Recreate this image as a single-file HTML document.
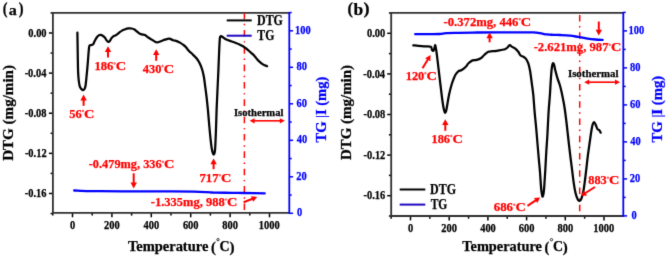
<!DOCTYPE html>
<html><head><meta charset="utf-8"><title>DTG/TG</title>
<style>html,body{margin:0;padding:0;background:#fff;width:668px;height:258px;overflow:hidden}svg{display:block}</style>
</head><body>
<svg width="668" height="258" viewBox="0 0 668 258" font-family="&quot;Liberation Serif&quot;, serif" font-weight="bold">
<defs><filter id="bl" x="0" y="0" width="668" height="258" filterUnits="userSpaceOnUse" color-interpolation-filters="sRGB"><feConvolveMatrix order="3" kernelMatrix="0.01134 0.08382 0.01134 0.08382 0.61935 0.08382 0.01134 0.08382 0.01134" edgeMode="duplicate" preserveAlpha="true"/></filter></defs><g filter="url(#bl)">
<rect width="668" height="258" fill="#ffffff"/>
<line x1="52.80" y1="212.9" x2="52.80" y2="215.6" stroke="#000000" stroke-width="1.5"/>
<line x1="72.50" y1="212.9" x2="72.50" y2="217.3" stroke="#000000" stroke-width="1.5"/>
<line x1="92.20" y1="212.9" x2="92.20" y2="215.6" stroke="#000000" stroke-width="1.5"/>
<line x1="111.90" y1="212.9" x2="111.90" y2="217.3" stroke="#000000" stroke-width="1.5"/>
<line x1="131.60" y1="212.9" x2="131.60" y2="215.6" stroke="#000000" stroke-width="1.5"/>
<line x1="151.30" y1="212.9" x2="151.30" y2="217.3" stroke="#000000" stroke-width="1.5"/>
<line x1="171.00" y1="212.9" x2="171.00" y2="215.6" stroke="#000000" stroke-width="1.5"/>
<line x1="190.70" y1="212.9" x2="190.70" y2="217.3" stroke="#000000" stroke-width="1.5"/>
<line x1="210.40" y1="212.9" x2="210.40" y2="215.6" stroke="#000000" stroke-width="1.5"/>
<line x1="230.10" y1="212.9" x2="230.10" y2="217.3" stroke="#000000" stroke-width="1.5"/>
<line x1="249.80" y1="212.9" x2="249.80" y2="215.6" stroke="#000000" stroke-width="1.5"/>
<line x1="269.50" y1="212.9" x2="269.50" y2="217.3" stroke="#000000" stroke-width="1.5"/>
<line x1="50.6" y1="12.94" x2="52.9" y2="12.94" stroke="#000000" stroke-width="1.5"/>
<line x1="48.9" y1="33.00" x2="52.9" y2="33.00" stroke="#000000" stroke-width="1.5"/>
<line x1="50.6" y1="53.06" x2="52.9" y2="53.06" stroke="#000000" stroke-width="1.5"/>
<line x1="48.9" y1="73.12" x2="52.9" y2="73.12" stroke="#000000" stroke-width="1.5"/>
<line x1="50.6" y1="93.18" x2="52.9" y2="93.18" stroke="#000000" stroke-width="1.5"/>
<line x1="48.9" y1="113.24" x2="52.9" y2="113.24" stroke="#000000" stroke-width="1.5"/>
<line x1="50.6" y1="133.30" x2="52.9" y2="133.30" stroke="#000000" stroke-width="1.5"/>
<line x1="48.9" y1="153.36" x2="52.9" y2="153.36" stroke="#000000" stroke-width="1.5"/>
<line x1="50.6" y1="173.42" x2="52.9" y2="173.42" stroke="#000000" stroke-width="1.5"/>
<line x1="48.9" y1="193.48" x2="52.9" y2="193.48" stroke="#000000" stroke-width="1.5"/>
<line x1="50.6" y1="213.54" x2="52.9" y2="213.54" stroke="#000000" stroke-width="1.5"/>
<line x1="289.3" y1="213.30" x2="293.1" y2="213.30" stroke="#0000ff" stroke-width="1.5"/>
<line x1="289.3" y1="195.05" x2="291.7" y2="195.05" stroke="#0000ff" stroke-width="1.5"/>
<line x1="289.3" y1="176.80" x2="293.1" y2="176.80" stroke="#0000ff" stroke-width="1.5"/>
<line x1="289.3" y1="158.55" x2="291.7" y2="158.55" stroke="#0000ff" stroke-width="1.5"/>
<line x1="289.3" y1="140.30" x2="293.1" y2="140.30" stroke="#0000ff" stroke-width="1.5"/>
<line x1="289.3" y1="122.05" x2="291.7" y2="122.05" stroke="#0000ff" stroke-width="1.5"/>
<line x1="289.3" y1="103.80" x2="293.1" y2="103.80" stroke="#0000ff" stroke-width="1.5"/>
<line x1="289.3" y1="85.55" x2="291.7" y2="85.55" stroke="#0000ff" stroke-width="1.5"/>
<line x1="289.3" y1="67.30" x2="293.1" y2="67.30" stroke="#0000ff" stroke-width="1.5"/>
<line x1="289.3" y1="49.05" x2="291.7" y2="49.05" stroke="#0000ff" stroke-width="1.5"/>
<line x1="289.3" y1="30.80" x2="293.1" y2="30.80" stroke="#0000ff" stroke-width="1.5"/>
<line x1="289.3" y1="12.55" x2="291.7" y2="12.55" stroke="#0000ff" stroke-width="1.5"/>
<path d="M289.3,12.9 H52.9 V212.9 H289.3" fill="none" stroke="#303030" stroke-width="1.8"/>
<line x1="289.3" y1="12.0" x2="289.3" y2="213.8" stroke="#0000ff" stroke-width="1.8"/>
<line x1="244.4" y1="12.9" x2="244.4" y2="212.9" stroke="#ff0000" stroke-width="1.5" stroke-dasharray="6.6 4.675 1.4 4.675" stroke-dashoffset="0.375"/>
<path d="M77.40,32.70 C77.43,34.75 77.53,40.78 77.60,45.00 C77.67,49.22 77.72,53.55 77.80,58.00 C77.88,62.45 77.95,68.03 78.10,71.70 C78.25,75.37 78.45,77.65 78.70,80.00 C78.95,82.35 79.25,84.42 79.60,85.80 C79.95,87.18 80.35,87.65 80.80,88.30 C81.25,88.95 81.87,89.42 82.30,89.70 C82.73,89.98 83.02,90.13 83.40,90.00 C83.78,89.87 84.23,89.70 84.60,88.90 C84.97,88.10 85.28,87.18 85.60,85.20 C85.92,83.22 86.15,80.53 86.50,77.00 C86.85,73.47 87.37,67.92 87.70,64.00 C88.03,60.08 88.25,56.42 88.50,53.50 C88.75,50.58 88.93,47.90 89.20,46.50 C89.47,45.10 89.68,45.35 90.10,45.10 C90.52,44.85 91.18,45.17 91.70,45.00 C92.22,44.83 92.70,44.75 93.20,44.10 C93.70,43.45 94.12,42.20 94.70,41.10 C95.28,40.00 96.03,38.45 96.70,37.50 C97.37,36.55 98.03,35.83 98.70,35.40 C99.37,34.97 100.03,34.83 100.70,34.90 C101.37,34.97 102.02,35.35 102.70,35.80 C103.38,36.25 104.12,36.80 104.80,37.60 C105.48,38.40 106.22,39.88 106.80,40.60 C107.38,41.32 107.80,41.82 108.30,41.90 C108.80,41.98 109.30,41.68 109.80,41.10 C110.30,40.52 110.72,39.20 111.30,38.40 C111.88,37.60 112.52,36.85 113.30,36.30 C114.08,35.75 115.02,35.72 116.00,35.10 C116.98,34.48 118.20,33.35 119.20,32.60 C120.20,31.85 121.12,31.12 122.00,30.60 C122.88,30.08 123.45,29.87 124.50,29.50 C125.55,29.13 127.10,28.57 128.30,28.40 C129.50,28.23 130.67,28.30 131.70,28.50 C132.73,28.70 133.62,29.10 134.50,29.60 C135.38,30.10 136.08,30.80 137.00,31.50 C137.92,32.20 139.08,33.28 140.00,33.80 C140.92,34.32 141.67,34.38 142.50,34.60 C143.33,34.82 144.03,34.62 145.00,35.10 C145.97,35.58 147.05,36.67 148.30,37.50 C149.55,38.33 151.10,39.28 152.50,40.10 C153.90,40.92 155.32,42.22 156.70,42.40 C158.08,42.58 159.42,41.65 160.80,41.20 C162.18,40.75 163.60,40.12 165.00,39.70 C166.40,39.28 167.82,38.60 169.20,38.70 C170.58,38.80 172.05,39.90 173.30,40.30 C174.55,40.70 175.58,40.72 176.70,41.10 C177.82,41.48 178.75,41.87 180.00,42.60 C181.25,43.33 183.17,44.68 184.20,45.50 C185.23,46.32 185.52,46.70 186.20,47.50 C186.88,48.30 187.62,49.50 188.30,50.30 C188.98,51.10 189.60,51.65 190.30,52.30 C191.00,52.95 191.43,53.17 192.50,54.20 C193.57,55.23 195.48,56.95 196.70,58.50 C197.92,60.05 198.87,61.58 199.80,63.50 C200.73,65.42 201.62,67.75 202.30,70.00 C202.98,72.25 203.45,74.50 203.90,77.00 C204.35,79.50 204.57,81.78 205.00,85.00 C205.43,88.22 206.02,92.18 206.50,96.30 C206.98,100.42 207.43,104.75 207.90,109.70 C208.37,114.65 208.85,121.07 209.30,126.00 C209.75,130.93 210.17,135.42 210.60,139.30 C211.03,143.18 211.42,146.78 211.90,149.30 C212.38,151.82 213.00,154.12 213.50,154.40 C214.00,154.68 214.55,153.52 214.90,151.00 C215.25,148.48 215.40,143.47 215.60,139.30 C215.80,135.13 215.93,130.93 216.10,126.00 C216.27,121.07 216.42,114.65 216.60,109.70 C216.78,104.75 217.00,100.75 217.20,96.30 C217.40,91.85 217.60,87.38 217.80,83.00 C218.00,78.62 218.20,74.67 218.40,70.00 C218.60,65.33 218.80,59.67 219.00,55.00 C219.20,50.33 219.42,45.00 219.60,42.00 C219.78,39.00 219.77,37.93 220.10,37.00 C220.43,36.07 220.65,36.03 221.60,36.40 C222.55,36.77 224.53,38.50 225.80,39.20 C227.07,39.90 227.95,40.13 229.20,40.60 C230.45,41.07 232.08,41.57 233.30,42.00 C234.52,42.43 235.55,42.83 236.50,43.20 C237.45,43.57 238.00,43.73 239.00,44.20 C240.00,44.67 241.50,45.42 242.50,46.00 C243.50,46.58 244.17,47.10 245.00,47.70 C245.83,48.30 246.38,48.67 247.50,49.60 C248.62,50.53 250.53,52.23 251.70,53.30 C252.87,54.37 253.35,54.73 254.50,56.00 C255.65,57.27 257.13,59.47 258.60,60.90 C260.07,62.33 261.88,63.72 263.30,64.60 C264.72,65.48 266.47,65.93 267.10,66.20" fill="none" stroke="#000000" stroke-width="2.25" stroke-linejoin="round" stroke-linecap="round"/>
<path d="M74.20,190.50 C75.17,190.55 78.03,190.70 80.00,190.80 C81.97,190.90 82.67,191.03 86.00,191.10 C89.33,191.17 91.00,191.15 100.00,191.20 C109.00,191.25 128.00,191.37 140.00,191.40 C152.00,191.43 163.00,191.37 172.00,191.40 C181.00,191.43 188.20,191.48 194.00,191.60 C199.80,191.72 203.80,191.95 206.80,192.10 C209.80,192.25 210.47,192.40 212.00,192.50 C213.53,192.60 212.67,192.65 216.00,192.70 C219.33,192.75 227.33,192.75 232.00,192.80 C236.67,192.85 238.55,192.90 244.00,193.00 C249.45,193.10 261.25,193.33 264.70,193.40" fill="none" stroke="#0000ff" stroke-width="2.3" stroke-linecap="round"/>
<line x1="226.7" y1="20.4" x2="251.7" y2="20.4" stroke="#000000" stroke-width="2"/>
<line x1="226.7" y1="35.7" x2="251.7" y2="35.7" stroke="#1e05c0" stroke-width="2"/>
<text x="257.00" y="24.90" font-size="13.80" fill="#000000" stroke="#000000" stroke-width="0.25" textLength="25.93" lengthAdjust="spacingAndGlyphs">DTG</text>
<text x="257.32" y="39.90" font-size="13.80" fill="#000000" stroke="#000000" stroke-width="0.25" textLength="16.99" lengthAdjust="spacingAndGlyphs">TG</text>
<line x1="83.6" y1="99.89999999999999" x2="83.6" y2="105.8" stroke="#ff0000" stroke-width="2.0"/>
<polygon points="83.6,94.6 80.39999999999999,100.39999999999999 86.8,100.39999999999999" fill="#ff0000"/>
<text x="69.20" y="117.50" font-size="13.00" fill="#ff0000" stroke="#ff0000" stroke-width="0.25" textLength="12.46" lengthAdjust="spacingAndGlyphs">56</text>
<circle cx="82.90" cy="111.00" r="0.8" fill="none" stroke="#ff0000" stroke-width="0.75"/>
<text x="84.01" y="117.50" font-size="13.00" fill="#ff0000" stroke="#ff0000" stroke-width="0.25" textLength="10.39" lengthAdjust="spacingAndGlyphs">C</text>
<line x1="108.0" y1="51.599999999999994" x2="108.0" y2="57.6" stroke="#ff0000" stroke-width="2.0"/>
<polygon points="108.0,46.3 104.8,52.099999999999994 111.2,52.099999999999994" fill="#ff0000"/>
<text x="94.39" y="70.00" font-size="13.00" fill="#ff0000" stroke="#ff0000" stroke-width="0.25" textLength="18.98" lengthAdjust="spacingAndGlyphs">186</text>
<circle cx="114.60" cy="63.50" r="0.8" fill="none" stroke="#ff0000" stroke-width="0.75"/>
<text x="115.71" y="70.00" font-size="13.00" fill="#ff0000" stroke="#ff0000" stroke-width="0.25" textLength="10.39" lengthAdjust="spacingAndGlyphs">C</text>
<line x1="156.2" y1="54.5" x2="156.2" y2="60.8" stroke="#ff0000" stroke-width="2.0"/>
<polygon points="156.2,49.2 153.0,55.0 159.39999999999998,55.0" fill="#ff0000"/>
<text x="142.84" y="72.50" font-size="13.00" fill="#ff0000" stroke="#ff0000" stroke-width="0.25" textLength="18.63" lengthAdjust="spacingAndGlyphs">430</text>
<circle cx="162.60" cy="66.00" r="0.8" fill="none" stroke="#ff0000" stroke-width="0.75"/>
<text x="163.71" y="72.50" font-size="13.00" fill="#ff0000" stroke="#ff0000" stroke-width="0.25" textLength="10.39" lengthAdjust="spacingAndGlyphs">C</text>
<line x1="213.6" y1="163.70000000000002" x2="213.6" y2="169.2" stroke="#ff0000" stroke-width="2.0"/>
<polygon points="213.6,158.4 210.4,164.20000000000002 216.79999999999998,164.20000000000002" fill="#ff0000"/>
<text x="199.47" y="181.80" font-size="13.00" fill="#ff0000" stroke="#ff0000" stroke-width="0.25" textLength="19.13" lengthAdjust="spacingAndGlyphs">717</text>
<circle cx="219.90" cy="175.30" r="0.8" fill="none" stroke="#ff0000" stroke-width="0.75"/>
<text x="221.01" y="181.80" font-size="13.00" fill="#ff0000" stroke="#ff0000" stroke-width="0.25" textLength="10.39" lengthAdjust="spacingAndGlyphs">C</text>
<text x="88.76" y="168.30" font-size="13.00" fill="#ff0000" stroke="#ff0000" stroke-width="0.25" textLength="72.90" lengthAdjust="spacingAndGlyphs">-0.479mg, 336</text>
<circle cx="162.90" cy="161.80" r="0.8" fill="none" stroke="#ff0000" stroke-width="0.75"/>
<text x="164.01" y="168.30" font-size="13.00" fill="#ff0000" stroke="#ff0000" stroke-width="0.25" textLength="10.39" lengthAdjust="spacingAndGlyphs">C</text>
<line x1="133.7" y1="173.3" x2="133.7" y2="183.1" stroke="#ff0000" stroke-width="2.0"/>
<polygon points="133.7,188.4 130.5,182.6 136.89999999999998,182.6" fill="#ff0000"/>
<text x="150.85" y="206.00" font-size="13.00" fill="#ff0000" stroke="#ff0000" stroke-width="0.25" textLength="73.86" lengthAdjust="spacingAndGlyphs">-1.335mg, 988</text>
<circle cx="225.90" cy="199.50" r="0.8" fill="none" stroke="#ff0000" stroke-width="0.75"/>
<text x="227.01" y="206.00" font-size="13.00" fill="#ff0000" stroke="#ff0000" stroke-width="0.25" textLength="10.39" lengthAdjust="spacingAndGlyphs">C</text>
<line x1="243.6" y1="202.2" x2="252.53" y2="198.79" stroke="#ff0000" stroke-width="2.0"/>
<polygon points="257.2,197.0 253.13,201.77 250.99,196.16" fill="#ff0000"/>
<text x="233.95" y="115.70" font-size="10.70" fill="#000000" stroke="#000000" stroke-width="0.25" textLength="49.53" lengthAdjust="spacingAndGlyphs">Isothermal</text>
<line x1="254.1" y1="120.8" x2="280.3" y2="120.8" stroke="#ff0000" stroke-width="1.6"/>
<polygon points="249.6,120.8 254.6,118.2 254.6,123.39999999999999" fill="#ff0000"/>
<polygon points="284.8,120.8 279.8,118.2 279.8,123.39999999999999" fill="#ff0000"/>
<text x="28.32" y="36.70" font-size="11.80" fill="#000000" stroke="#000000" stroke-width="0.25" textLength="18.28" lengthAdjust="spacingAndGlyphs">0.00</text>
<text x="24.64" y="76.82" font-size="11.80" fill="#000000" stroke="#000000" stroke-width="0.25" textLength="21.75" lengthAdjust="spacingAndGlyphs">-0.04</text>
<text x="24.79" y="116.94" font-size="11.80" fill="#000000" stroke="#000000" stroke-width="0.25" textLength="21.75" lengthAdjust="spacingAndGlyphs">-0.08</text>
<text x="24.89" y="157.06" font-size="11.80" fill="#000000" stroke="#000000" stroke-width="0.25" textLength="21.75" lengthAdjust="spacingAndGlyphs">-0.12</text>
<text x="24.75" y="197.18" font-size="11.80" fill="#000000" stroke="#000000" stroke-width="0.25" textLength="21.75" lengthAdjust="spacingAndGlyphs">-0.16</text>
<text x="69.89" y="228.50" font-size="11.80" fill="#000000" stroke="#000000" stroke-width="0.25" textLength="5.22" lengthAdjust="spacingAndGlyphs">0</text>
<text x="104.05" y="228.50" font-size="11.80" fill="#000000" stroke="#000000" stroke-width="0.25" textLength="15.66" lengthAdjust="spacingAndGlyphs">200</text>
<text x="143.60" y="228.50" font-size="11.80" fill="#000000" stroke="#000000" stroke-width="0.25" textLength="15.66" lengthAdjust="spacingAndGlyphs">400</text>
<text x="182.89" y="228.50" font-size="11.80" fill="#000000" stroke="#000000" stroke-width="0.25" textLength="15.66" lengthAdjust="spacingAndGlyphs">600</text>
<text x="222.29" y="228.50" font-size="11.80" fill="#000000" stroke="#000000" stroke-width="0.25" textLength="15.66" lengthAdjust="spacingAndGlyphs">800</text>
<text x="258.84" y="228.50" font-size="11.80" fill="#000000" stroke="#000000" stroke-width="0.25" textLength="20.89" lengthAdjust="spacingAndGlyphs">1000</text>
<text x="297.10" y="216.20" font-size="11.80" fill="#0000ff" stroke="#0000ff" stroke-width="0.25" textLength="5.22" lengthAdjust="spacingAndGlyphs">0</text>
<text x="296.36" y="179.70" font-size="11.80" fill="#0000ff" stroke="#0000ff" stroke-width="0.25" textLength="10.44" lengthAdjust="spacingAndGlyphs">20</text>
<text x="296.66" y="143.20" font-size="11.80" fill="#0000ff" stroke="#0000ff" stroke-width="0.25" textLength="10.44" lengthAdjust="spacingAndGlyphs">40</text>
<text x="296.44" y="106.70" font-size="11.80" fill="#0000ff" stroke="#0000ff" stroke-width="0.25" textLength="10.44" lengthAdjust="spacingAndGlyphs">60</text>
<text x="296.46" y="70.20" font-size="11.80" fill="#0000ff" stroke="#0000ff" stroke-width="0.25" textLength="10.44" lengthAdjust="spacingAndGlyphs">80</text>
<text x="294.96" y="33.70" font-size="11.80" fill="#0000ff" stroke="#0000ff" stroke-width="0.25" textLength="15.66" lengthAdjust="spacingAndGlyphs">100</text>
<text x="127.88" y="251.40" font-size="14.70" fill="#000000" stroke="#000000" stroke-width="0.25" textLength="80.49" lengthAdjust="spacingAndGlyphs">Temperature</text>
<text x="211.07" y="252.00" font-size="14.70" fill="#000000" stroke="#000000" stroke-width="0.25" textLength="4.90" lengthAdjust="spacingAndGlyphs">(</text>
<circle cx="218.00" cy="239.70" r="1.2" fill="none" stroke="#000" stroke-width="0.8"/>
<text x="219.43" y="251.40" font-size="14.70" fill="#000000" stroke="#000000" stroke-width="0.25" textLength="10.14" lengthAdjust="spacingAndGlyphs">C</text>
<text x="229.52" y="252.00" font-size="14.70" fill="#000000" stroke="#000000" stroke-width="0.25" textLength="5.03" lengthAdjust="spacingAndGlyphs">)</text>
<text transform="translate(12.6,160.8) rotate(-90)" font-size="13.8" fill="#000" stroke="#000" stroke-width="0.25" textLength="95.8" lengthAdjust="spacingAndGlyphs">DTG (mg/min)</text>
<text transform="translate(326.3,142.5) rotate(-90)" font-size="13.8" fill="#0000ff" stroke="#0000ff" stroke-width="0.25" textLength="65.8" lengthAdjust="spacingAndGlyphs">TG <tspan font-weight="normal">|</tspan>I (mg)</text>
<text x="2.68" y="14.30" font-size="17.00" fill="#000000" stroke="#000000" stroke-width="0.25" textLength="4.78" lengthAdjust="spacingAndGlyphs">(</text>
<text x="8.78" y="14.60" font-size="15.40" fill="#000000" stroke="#000000" stroke-width="0.25" textLength="8.06" lengthAdjust="spacingAndGlyphs">a</text>
<text x="18.64" y="14.30" font-size="17.00" fill="#000000" stroke="#000000" stroke-width="0.25" textLength="4.78" lengthAdjust="spacingAndGlyphs">)</text>
<line x1="391.15" y1="216.0" x2="391.15" y2="218.7" stroke="#000000" stroke-width="1.5"/>
<line x1="410.50" y1="216.0" x2="410.50" y2="220.4" stroke="#000000" stroke-width="1.5"/>
<line x1="429.85" y1="216.0" x2="429.85" y2="218.7" stroke="#000000" stroke-width="1.5"/>
<line x1="449.20" y1="216.0" x2="449.20" y2="220.4" stroke="#000000" stroke-width="1.5"/>
<line x1="468.55" y1="216.0" x2="468.55" y2="218.7" stroke="#000000" stroke-width="1.5"/>
<line x1="487.90" y1="216.0" x2="487.90" y2="220.4" stroke="#000000" stroke-width="1.5"/>
<line x1="507.25" y1="216.0" x2="507.25" y2="218.7" stroke="#000000" stroke-width="1.5"/>
<line x1="526.60" y1="216.0" x2="526.60" y2="220.4" stroke="#000000" stroke-width="1.5"/>
<line x1="545.95" y1="216.0" x2="545.95" y2="218.7" stroke="#000000" stroke-width="1.5"/>
<line x1="565.30" y1="216.0" x2="565.30" y2="220.4" stroke="#000000" stroke-width="1.5"/>
<line x1="584.65" y1="216.0" x2="584.65" y2="218.7" stroke="#000000" stroke-width="1.5"/>
<line x1="604.00" y1="216.0" x2="604.00" y2="220.4" stroke="#000000" stroke-width="1.5"/>
<line x1="388.9" y1="13.00" x2="391.2" y2="13.00" stroke="#000000" stroke-width="1.5"/>
<line x1="387.2" y1="33.30" x2="391.2" y2="33.30" stroke="#000000" stroke-width="1.5"/>
<line x1="388.9" y1="53.60" x2="391.2" y2="53.60" stroke="#000000" stroke-width="1.5"/>
<line x1="387.2" y1="73.90" x2="391.2" y2="73.90" stroke="#000000" stroke-width="1.5"/>
<line x1="388.9" y1="94.20" x2="391.2" y2="94.20" stroke="#000000" stroke-width="1.5"/>
<line x1="387.2" y1="114.50" x2="391.2" y2="114.50" stroke="#000000" stroke-width="1.5"/>
<line x1="388.9" y1="134.80" x2="391.2" y2="134.80" stroke="#000000" stroke-width="1.5"/>
<line x1="387.2" y1="155.10" x2="391.2" y2="155.10" stroke="#000000" stroke-width="1.5"/>
<line x1="388.9" y1="175.40" x2="391.2" y2="175.40" stroke="#000000" stroke-width="1.5"/>
<line x1="387.2" y1="195.70" x2="391.2" y2="195.70" stroke="#000000" stroke-width="1.5"/>
<line x1="388.9" y1="216.00" x2="391.2" y2="216.00" stroke="#000000" stroke-width="1.5"/>
<line x1="623.3" y1="215.90" x2="627.0999999999999" y2="215.90" stroke="#0000ff" stroke-width="1.5"/>
<line x1="623.3" y1="197.40" x2="625.6999999999999" y2="197.40" stroke="#0000ff" stroke-width="1.5"/>
<line x1="623.3" y1="178.90" x2="627.0999999999999" y2="178.90" stroke="#0000ff" stroke-width="1.5"/>
<line x1="623.3" y1="160.40" x2="625.6999999999999" y2="160.40" stroke="#0000ff" stroke-width="1.5"/>
<line x1="623.3" y1="141.90" x2="627.0999999999999" y2="141.90" stroke="#0000ff" stroke-width="1.5"/>
<line x1="623.3" y1="123.40" x2="625.6999999999999" y2="123.40" stroke="#0000ff" stroke-width="1.5"/>
<line x1="623.3" y1="104.90" x2="627.0999999999999" y2="104.90" stroke="#0000ff" stroke-width="1.5"/>
<line x1="623.3" y1="86.40" x2="625.6999999999999" y2="86.40" stroke="#0000ff" stroke-width="1.5"/>
<line x1="623.3" y1="67.90" x2="627.0999999999999" y2="67.90" stroke="#0000ff" stroke-width="1.5"/>
<line x1="623.3" y1="49.40" x2="625.6999999999999" y2="49.40" stroke="#0000ff" stroke-width="1.5"/>
<line x1="623.3" y1="30.90" x2="627.0999999999999" y2="30.90" stroke="#0000ff" stroke-width="1.5"/>
<line x1="623.3" y1="12.40" x2="625.6999999999999" y2="12.40" stroke="#0000ff" stroke-width="1.5"/>
<path d="M623.3,12.8 H391.2 V216.0 H623.3" fill="none" stroke="#303030" stroke-width="1.8"/>
<line x1="623.3" y1="11.9" x2="623.3" y2="216.9" stroke="#0000ff" stroke-width="1.8"/>
<line x1="579.7" y1="12.8" x2="579.7" y2="216.0" stroke="#ff0000" stroke-width="1.5" stroke-dasharray="6.6 4.625 1.4 4.625" stroke-dashoffset="-2.075"/>
<path d="M413.30,45.30 C414.13,45.38 416.35,45.63 418.30,45.80 C420.25,45.97 422.92,46.13 425.00,46.30 C427.08,46.47 429.63,46.22 430.80,46.80 C431.97,47.38 431.58,49.13 432.00,49.80 C432.42,50.47 432.90,51.02 433.30,50.80 C433.70,50.58 434.08,49.43 434.40,48.50 C434.72,47.57 434.90,44.95 435.20,45.20 C435.50,45.45 435.85,47.82 436.20,50.00 C436.55,52.18 436.92,55.25 437.30,58.30 C437.68,61.35 438.15,65.35 438.50,68.30 C438.85,71.25 439.05,73.05 439.40,76.00 C439.75,78.95 440.20,82.67 440.60,86.00 C441.00,89.33 441.42,93.00 441.80,96.00 C442.18,99.00 442.55,101.75 442.90,104.00 C443.25,106.25 443.55,108.03 443.90,109.50 C444.25,110.97 444.62,112.62 445.00,112.80 C445.38,112.98 445.80,112.07 446.20,110.60 C446.60,109.13 446.90,106.77 447.40,104.00 C447.90,101.23 448.52,97.17 449.20,94.00 C449.88,90.83 450.77,87.50 451.50,85.00 C452.23,82.50 452.92,80.75 453.60,79.00 C454.28,77.25 454.82,75.78 455.60,74.50 C456.38,73.22 457.28,72.05 458.30,71.30 C459.32,70.55 460.45,70.77 461.70,70.00 C462.95,69.23 464.67,67.82 465.80,66.70 C466.93,65.58 467.38,64.35 468.50,63.30 C469.62,62.25 471.13,60.97 472.50,60.40 C473.87,59.83 475.32,60.25 476.70,59.90 C478.08,59.55 479.55,59.12 480.80,58.30 C482.05,57.48 482.95,56.10 484.20,55.00 C485.45,53.90 486.92,52.33 488.30,51.70 C489.68,51.07 491.10,51.35 492.50,51.20 C493.90,51.05 495.32,51.00 496.70,50.80 C498.08,50.60 499.42,50.27 500.80,50.00 C502.18,49.73 503.88,49.62 505.00,49.20 C506.12,48.78 506.72,48.18 507.50,47.50 C508.28,46.82 509.00,45.25 509.70,45.10 C510.40,44.95 510.82,46.05 511.70,46.60 C512.58,47.15 513.90,47.53 515.00,48.40 C516.10,49.27 517.37,50.62 518.30,51.80 C519.23,52.98 519.77,54.68 520.60,55.50 C521.43,56.32 522.43,56.18 523.30,56.70 C524.17,57.22 524.97,57.50 525.80,58.60 C526.63,59.70 527.58,61.23 528.30,63.30 C529.02,65.37 529.52,67.67 530.10,71.00 C530.68,74.33 531.27,79.30 531.80,83.30 C532.33,87.30 532.83,90.27 533.30,95.00 C533.77,99.73 534.12,106.15 534.60,111.70 C535.08,117.25 535.70,122.75 536.20,128.30 C536.70,133.85 537.15,139.72 537.60,145.00 C538.05,150.28 538.50,155.50 538.90,160.00 C539.30,164.50 539.72,168.50 540.00,172.00 C540.28,175.50 540.38,178.00 540.60,181.00 C540.82,184.00 540.98,187.40 541.30,190.00 C541.62,192.60 542.08,196.32 542.50,196.60 C542.92,196.88 543.45,194.30 543.80,191.70 C544.15,189.10 544.35,184.62 544.60,181.00 C544.85,177.38 545.02,174.88 545.30,170.00 C545.58,165.12 545.95,157.53 546.30,151.70 C546.65,145.87 547.02,141.67 547.40,135.00 C547.78,128.33 548.18,118.37 548.60,111.70 C549.02,105.03 549.53,100.28 549.90,95.00 C550.27,89.72 550.50,84.33 550.80,80.00 C551.10,75.67 551.35,71.77 551.70,69.00 C552.05,66.23 552.48,64.03 552.90,63.40 C553.32,62.77 553.82,64.10 554.20,65.20 C554.58,66.30 554.65,67.82 555.20,70.00 C555.75,72.18 556.73,75.80 557.50,78.30 C558.27,80.80 559.13,82.77 559.80,85.00 C560.47,87.23 561.00,89.53 561.50,91.70 C562.00,93.87 562.33,95.62 562.80,98.00 C563.27,100.38 563.73,102.33 564.30,106.00 C564.87,109.67 565.60,115.17 566.20,120.00 C566.80,124.83 567.30,129.72 567.90,135.00 C568.50,140.28 569.13,146.15 569.80,151.70 C570.47,157.25 571.23,163.03 571.90,168.30 C572.57,173.57 573.18,179.13 573.80,183.30 C574.42,187.47 574.93,190.58 575.60,193.30 C576.27,196.02 577.13,198.33 577.80,199.60 C578.47,200.87 579.00,201.07 579.60,200.90 C580.20,200.73 580.77,200.25 581.40,198.60 C582.03,196.95 582.80,194.10 583.40,191.00 C584.00,187.90 584.50,183.78 585.00,180.00 C585.50,176.22 585.93,172.30 586.40,168.30 C586.87,164.30 587.23,160.43 587.80,156.00 C588.37,151.57 589.23,145.70 589.80,141.70 C590.37,137.70 590.75,134.78 591.20,132.00 C591.65,129.22 592.02,126.67 592.50,125.00 C592.98,123.33 593.55,122.00 594.10,122.00 C594.65,122.00 595.25,123.83 595.80,125.00 C596.35,126.17 596.82,128.13 597.40,129.00 C597.98,129.87 598.75,129.60 599.30,130.20 C599.85,130.80 600.47,132.20 600.70,132.60" fill="none" stroke="#000000" stroke-width="2.25" stroke-linejoin="round" stroke-linecap="round"/>
<path d="M415.20,34.20 C417.10,34.20 422.55,34.23 426.60,34.20 C430.65,34.17 436.27,34.18 439.50,34.00 C442.73,33.82 442.77,33.30 446.00,33.10 C449.23,32.90 453.73,32.90 458.90,32.80 C464.07,32.70 470.72,32.58 477.00,32.50 C483.28,32.42 489.75,32.33 496.60,32.30 C503.45,32.27 511.95,32.28 518.10,32.30 C524.25,32.32 529.85,32.25 533.50,32.40 C537.15,32.55 537.75,32.87 540.00,33.20 C542.25,33.53 544.83,34.13 547.00,34.40 C549.17,34.67 550.77,34.70 553.00,34.80 C555.23,34.90 557.58,34.87 560.40,35.00 C563.22,35.13 566.97,35.28 569.90,35.60 C572.83,35.92 575.32,36.45 578.00,36.90 C580.68,37.35 583.08,37.87 586.00,38.30 C588.92,38.73 592.73,39.23 595.50,39.50 C598.27,39.77 601.42,39.83 602.60,39.90" fill="none" stroke="#0000ff" stroke-width="2.3" stroke-linecap="round"/>
<line x1="399.7" y1="189.5" x2="425.3" y2="189.5" stroke="#000000" stroke-width="2"/>
<line x1="399.7" y1="204.6" x2="425.3" y2="204.6" stroke="#1e05c0" stroke-width="2"/>
<text x="430.10" y="193.70" font-size="13.80" fill="#000000" stroke="#000000" stroke-width="0.25" textLength="26.03" lengthAdjust="spacingAndGlyphs">DTG</text>
<text x="430.63" y="208.70" font-size="13.80" fill="#000000" stroke="#000000" stroke-width="0.25" textLength="16.68" lengthAdjust="spacingAndGlyphs">TG</text>
<line x1="422.5" y1="68.3" x2="428.00" y2="59.27" stroke="#ff0000" stroke-width="2.0"/>
<polygon points="430.6,55.0 430.30,61.26 425.18,58.14" fill="#ff0000"/>
<text x="405.71" y="79.70" font-size="13.00" fill="#ff0000" stroke="#ff0000" stroke-width="0.25" textLength="18.56" lengthAdjust="spacingAndGlyphs">120</text>
<circle cx="425.40" cy="73.20" r="0.8" fill="none" stroke="#ff0000" stroke-width="0.75"/>
<text x="426.51" y="79.70" font-size="13.00" fill="#ff0000" stroke="#ff0000" stroke-width="0.25" textLength="10.39" lengthAdjust="spacingAndGlyphs">C</text>
<line x1="445.3" y1="124.5" x2="445.3" y2="130.8" stroke="#ff0000" stroke-width="2.0"/>
<polygon points="445.3,119.2 442.1,125.0 448.5,125.0" fill="#ff0000"/>
<text x="431.51" y="142.50" font-size="13.00" fill="#ff0000" stroke="#ff0000" stroke-width="0.25" textLength="18.55" lengthAdjust="spacingAndGlyphs">186</text>
<circle cx="451.30" cy="136.00" r="0.8" fill="none" stroke="#ff0000" stroke-width="0.75"/>
<text x="452.41" y="142.50" font-size="13.00" fill="#ff0000" stroke="#ff0000" stroke-width="0.25" textLength="10.39" lengthAdjust="spacingAndGlyphs">C</text>
<text x="443.54" y="25.60" font-size="13.00" fill="#ff0000" stroke="#ff0000" stroke-width="0.25" textLength="74.92" lengthAdjust="spacingAndGlyphs">-0.372mg, 446</text>
<circle cx="519.70" cy="19.10" r="0.8" fill="none" stroke="#ff0000" stroke-width="0.75"/>
<text x="520.81" y="25.60" font-size="13.00" fill="#ff0000" stroke="#ff0000" stroke-width="0.25" textLength="10.39" lengthAdjust="spacingAndGlyphs">C</text>
<line x1="489.6" y1="37.699999999999996" x2="489.6" y2="42.3" stroke="#ff0000" stroke-width="2.0"/>
<polygon points="489.6,32.4 486.40000000000003,38.199999999999996 492.8,38.199999999999996" fill="#ff0000"/>
<text x="533.64" y="51.30" font-size="13.00" fill="#ff0000" stroke="#ff0000" stroke-width="0.25" textLength="74.86" lengthAdjust="spacingAndGlyphs">-2.621mg, 987</text>
<circle cx="609.80" cy="44.80" r="0.8" fill="none" stroke="#ff0000" stroke-width="0.75"/>
<text x="610.91" y="51.30" font-size="13.00" fill="#ff0000" stroke="#ff0000" stroke-width="0.25" textLength="10.39" lengthAdjust="spacingAndGlyphs">C</text>
<line x1="598.8" y1="21.5" x2="598.8" y2="30.3" stroke="#ff0000" stroke-width="2.0"/>
<polygon points="598.8,35.6 595.5999999999999,29.8 602.0,29.8" fill="#ff0000"/>
<text x="567.94" y="76.60" font-size="10.70" fill="#000000" stroke="#000000" stroke-width="0.25" textLength="50.54" lengthAdjust="spacingAndGlyphs">Isothermal</text>
<line x1="588.7" y1="82.2" x2="615.5" y2="82.2" stroke="#ff0000" stroke-width="1.6"/>
<polygon points="584.2,82.2 589.2,79.60000000000001 589.2,84.8" fill="#ff0000"/>
<polygon points="620.0,82.2 615.0,79.60000000000001 615.0,84.8" fill="#ff0000"/>
<text x="493.76" y="211.30" font-size="13.00" fill="#ff0000" stroke="#ff0000" stroke-width="0.25" textLength="19.31" lengthAdjust="spacingAndGlyphs">686</text>
<circle cx="514.30" cy="204.80" r="0.8" fill="none" stroke="#ff0000" stroke-width="0.75"/>
<text x="515.41" y="211.30" font-size="13.00" fill="#ff0000" stroke="#ff0000" stroke-width="0.25" textLength="10.39" lengthAdjust="spacingAndGlyphs">C</text>
<line x1="527.5" y1="205.8" x2="536.03" y2="200.16" stroke="#ff0000" stroke-width="2.0"/>
<polygon points="540.2,197.4 537.27,202.94 533.96,197.93" fill="#ff0000"/>
<text x="588.29" y="184.20" font-size="13.00" fill="#ff0000" stroke="#ff0000" stroke-width="0.25" textLength="18.42" lengthAdjust="spacingAndGlyphs">883</text>
<circle cx="607.90" cy="177.70" r="0.8" fill="none" stroke="#ff0000" stroke-width="0.75"/>
<text x="609.01" y="184.20" font-size="13.00" fill="#ff0000" stroke="#ff0000" stroke-width="0.25" textLength="10.39" lengthAdjust="spacingAndGlyphs">C</text>
<line x1="595.0" y1="187.0" x2="585.04" y2="193.24" stroke="#ff0000" stroke-width="2.0"/>
<polygon points="580.8,195.9 583.87,190.44 587.05,195.52" fill="#ff0000"/>
<text x="367.02" y="37.00" font-size="11.80" fill="#000000" stroke="#000000" stroke-width="0.25" textLength="18.28" lengthAdjust="spacingAndGlyphs">0.00</text>
<text x="363.34" y="77.60" font-size="11.80" fill="#000000" stroke="#000000" stroke-width="0.25" textLength="21.75" lengthAdjust="spacingAndGlyphs">-0.04</text>
<text x="363.49" y="118.20" font-size="11.80" fill="#000000" stroke="#000000" stroke-width="0.25" textLength="21.75" lengthAdjust="spacingAndGlyphs">-0.08</text>
<text x="363.59" y="158.80" font-size="11.80" fill="#000000" stroke="#000000" stroke-width="0.25" textLength="21.75" lengthAdjust="spacingAndGlyphs">-0.12</text>
<text x="363.45" y="199.40" font-size="11.80" fill="#000000" stroke="#000000" stroke-width="0.25" textLength="21.75" lengthAdjust="spacingAndGlyphs">-0.16</text>
<text x="407.89" y="231.70" font-size="11.80" fill="#000000" stroke="#000000" stroke-width="0.25" textLength="5.22" lengthAdjust="spacingAndGlyphs">0</text>
<text x="441.35" y="231.70" font-size="11.80" fill="#000000" stroke="#000000" stroke-width="0.25" textLength="15.66" lengthAdjust="spacingAndGlyphs">200</text>
<text x="480.20" y="231.70" font-size="11.80" fill="#000000" stroke="#000000" stroke-width="0.25" textLength="15.66" lengthAdjust="spacingAndGlyphs">400</text>
<text x="518.79" y="231.70" font-size="11.80" fill="#000000" stroke="#000000" stroke-width="0.25" textLength="15.66" lengthAdjust="spacingAndGlyphs">600</text>
<text x="557.49" y="231.70" font-size="11.80" fill="#000000" stroke="#000000" stroke-width="0.25" textLength="15.66" lengthAdjust="spacingAndGlyphs">800</text>
<text x="593.34" y="231.70" font-size="11.80" fill="#000000" stroke="#000000" stroke-width="0.25" textLength="20.89" lengthAdjust="spacingAndGlyphs">1000</text>
<text x="631.40" y="219.10" font-size="11.80" fill="#0000ff" stroke="#0000ff" stroke-width="0.25" textLength="5.22" lengthAdjust="spacingAndGlyphs">0</text>
<text x="629.86" y="182.10" font-size="11.80" fill="#0000ff" stroke="#0000ff" stroke-width="0.25" textLength="10.44" lengthAdjust="spacingAndGlyphs">20</text>
<text x="630.16" y="145.10" font-size="11.80" fill="#0000ff" stroke="#0000ff" stroke-width="0.25" textLength="10.44" lengthAdjust="spacingAndGlyphs">40</text>
<text x="629.94" y="108.10" font-size="11.80" fill="#0000ff" stroke="#0000ff" stroke-width="0.25" textLength="10.44" lengthAdjust="spacingAndGlyphs">60</text>
<text x="629.96" y="71.10" font-size="11.80" fill="#0000ff" stroke="#0000ff" stroke-width="0.25" textLength="10.44" lengthAdjust="spacingAndGlyphs">80</text>
<text x="628.46" y="34.10" font-size="11.80" fill="#0000ff" stroke="#0000ff" stroke-width="0.25" textLength="15.66" lengthAdjust="spacingAndGlyphs">100</text>
<text x="462.28" y="251.40" font-size="14.70" fill="#000000" stroke="#000000" stroke-width="0.25" textLength="79.65" lengthAdjust="spacingAndGlyphs">Temperature</text>
<text x="544.60" y="252.00" font-size="14.70" fill="#000000" stroke="#000000" stroke-width="0.25" textLength="4.85" lengthAdjust="spacingAndGlyphs">(</text>
<circle cx="551.47" cy="239.70" r="1.2" fill="none" stroke="#000" stroke-width="0.8"/>
<text x="552.88" y="251.40" font-size="14.70" fill="#000000" stroke="#000000" stroke-width="0.25" textLength="10.04" lengthAdjust="spacingAndGlyphs">C</text>
<text x="562.86" y="252.00" font-size="14.70" fill="#000000" stroke="#000000" stroke-width="0.25" textLength="4.98" lengthAdjust="spacingAndGlyphs">)</text>
<text transform="translate(351.2,160.0) rotate(-90)" font-size="13.8" fill="#000" stroke="#000" stroke-width="0.25" textLength="95.0" lengthAdjust="spacingAndGlyphs">DTG (mg/min)</text>
<text transform="translate(662.2,142.5) rotate(-90)" font-size="13.8" fill="#0000ff" stroke="#0000ff" stroke-width="0.25" textLength="66.7" lengthAdjust="spacingAndGlyphs">TG <tspan font-weight="normal">|</tspan>I (mg)</text>
<text x="347.50" y="14.30" font-size="17.00" fill="#000000" stroke="#000000" stroke-width="0.25" textLength="5.42" lengthAdjust="spacingAndGlyphs">(</text>
<text x="353.59" y="14.80" font-size="16.60" fill="#000000" stroke="#000000" stroke-width="0.25" textLength="9.71" lengthAdjust="spacingAndGlyphs">b</text>
<text x="363.42" y="14.30" font-size="17.00" fill="#000000" stroke="#000000" stroke-width="0.25" textLength="6.07" lengthAdjust="spacingAndGlyphs">)</text>
</g>
</svg>
</body></html>
